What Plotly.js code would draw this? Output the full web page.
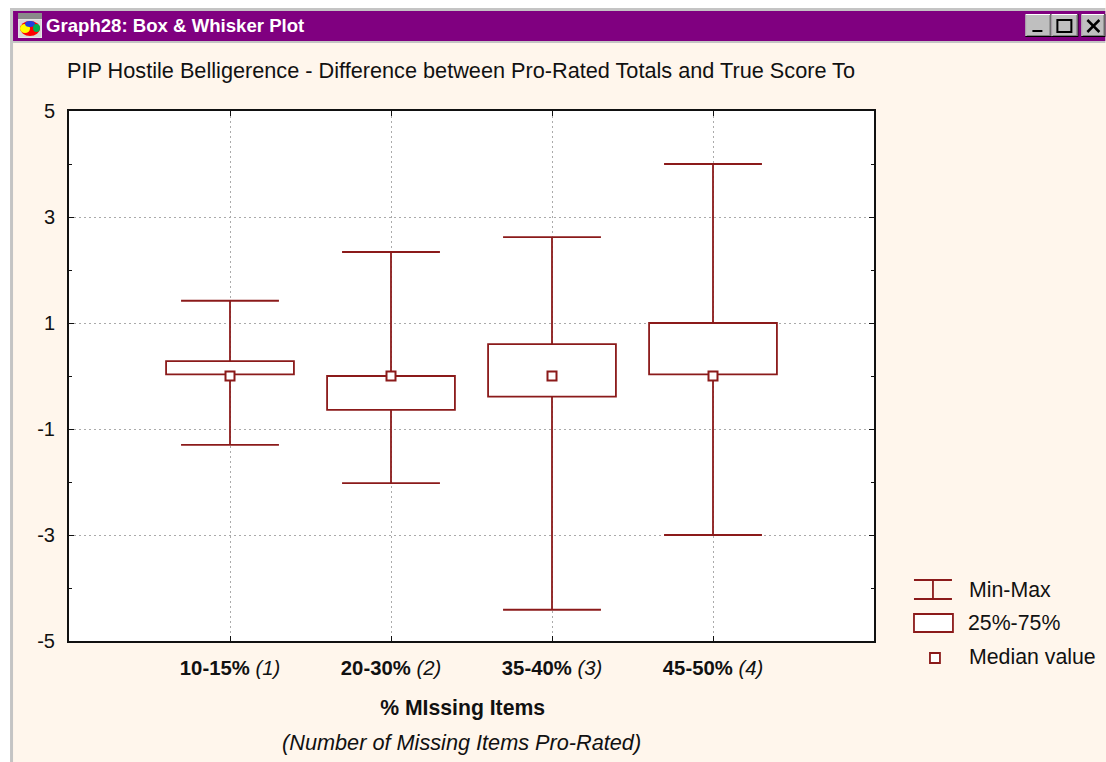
<!DOCTYPE html>
<html><head><meta charset="utf-8">
<script src="https://cdn.plot.ly/plotly-3.0.1.min.js"></script>
<style>html,body{margin:0;padding:0;background:#fff;overflow:hidden}#g{width:1106px;height:762px}</style>
</head><body><div id="g"></div>
<script>
var categories = ['10-15%', '20-30%', '35-40%', '45-50%'];
var itemCounts = ['(1)', '(2)', '(3)', '(4)'];
var positions = [1, 2, 3, 4];
var minValues = [-1.30, -2.02, -4.41, -3.00];
var maxValues = [1.42, 2.34, 2.62, 4.00];
var q1Values = [0.03, -0.64, -0.39, 0.03];
var q3Values = [0.28, 0.00, 0.60, 1.00];
var medianValues = [0, 0, 0, 0];
var yLabels = [-5, -3, -1, 1, 3, 5];

var RED = '#8b1a1a', CREAM = '#fff6ec', PURPLE = '#800080', GREY = '#c4c4c4';
var capHalf = 0.304, boxWidth = 0.794;
var L = 69, R = 874.5, T = 111, B = 641;
var px = function (v) { return (v - L) / (R - L); };
var py = function (v) { return (B - v) / (B - T); };

var wx = [], wy = [];
positions.forEach(function (p, i) {
  wx.push(p - capHalf, p + capHalf, null, p, p, null, p - capHalf, p + capHalf, null, p, p, null);
  wy.push(maxValues[i], maxValues[i], null, maxValues[i], q3Values[i], null,
          minValues[i], minValues[i], null, minValues[i], q1Values[i], null);
});

var traces = [
  { type: 'bar', name: '25%-75%', x: positions,
    y: q3Values.map(function (v, i) { return v - q1Values[i]; }), base: q1Values, width: boxWidth,
    marker: { color: '#fff', line: { color: RED, width: 1.8 } }, showlegend: false },
  { type: 'scatter', mode: 'lines', name: 'Min-Max', x: wx, y: wy, connectgaps: false,
    line: { color: RED, width: 1.8 }, showlegend: false },
  { type: 'scatter', mode: 'markers', name: 'Median value', x: positions, y: medianValues,
    marker: { symbol: 'square', size: 9, color: '#fff', line: { color: RED, width: 2 } }, showlegend: false }
];

function rect(x0, y0, x1, y1, fill, line, lw) {
  return { type: 'rect', xref: 'paper', yref: 'paper', x0: px(x0), x1: px(x1), y0: py(y1), y1: py(y0),
    fillcolor: fill, line: line ? { color: line, width: lw || 1 } : { width: 0 }, layer: 'above' };
}
function seg(x0, y0, x1, y1, color, lw) {
  return { type: 'line', xref: 'paper', yref: 'paper', x0: px(x0), x1: px(x1), y0: py(y0), y1: py(y1),
    line: { color: color, width: lw || 1.8 }, layer: 'above' };
}
function oval(x0, y0, x1, y1, fill) {
  return { type: 'circle', xref: 'paper', yref: 'paper', x0: px(x0), x1: px(x1), y0: py(y1), y1: py(y0),
    fillcolor: fill, line: { width: 0 }, layer: 'above' };
}
function button(x0, x1) {
  return [rect(x0, 14, x1, 37, '#000'), rect(x0, 14, x1 - 1, 36, '#fff'), rect(x0 + 1, 15, x1 - 1, 36, '#808080'), rect(x0 + 1, 15, x1 - 2, 35, '#bfbfbf')];
}
var shapes = [
  rect(0, 0, 1106, 8, '#fff'), rect(0, 8, 10, 762, '#fff'),
  rect(10, 8, 1106, 11, GREY), rect(10, 8, 13, 762, GREY),
  rect(13, 11, 1106, 41, PURPLE), rect(13, 41, 1106, 43, GREY),
  rect(18, 13, 42, 19, '#8a8a8a'), rect(18, 19, 42, 38, '#e6e6e6'), rect(19, 20, 41, 37, '#d8d8d8'),
  oval(20, 21, 40, 36, '#ff0000'), oval(20, 24, 30, 33, '#ffff00'), oval(25, 21, 35, 27, '#2040e0'), oval(33, 24, 40, 32, '#00b050')
].concat(button(1026, 1052), button(1052, 1079), button(1082, 1106), [
  rect(1033, 30, 1043, 32, '#000'),
  rect(1058, 20, 1072, 32, 'rgba(0,0,0,0)', '#000', 2),
  seg(1088, 20, 1100, 32, '#000', 2.5), seg(1100, 20, 1088, 32, '#000', 2.5),
  seg(914.5, 580, 952.5, 580, RED), seg(914.5, 599, 952.5, 599, RED), seg(933.5, 580, 933.5, 599, RED),
  rect(914.5, 614, 953.5, 632, '#fff', RED, 1.8),
  rect(930.5, 653, 940.5, 663, '#fff', RED, 1.8)
]);

function note(x, y, text, size, anchor, color) {
  return { xref: 'paper', yref: 'paper', x: px(x), y: py(y), text: text, showarrow: false,
    xanchor: anchor || 'left', yanchor: 'middle', font: { size: size, color: color || '#111' }, borderpad: 0, borderwidth: 0 };
}

var layout = {
  width: 1106, height: 762, autosize: false,
  margin: { l: L, r: 1106 - R, t: T, b: 762 - B, pad: 0 },
  paper_bgcolor: CREAM, plot_bgcolor: '#fff',
  font: { family: '"Liberation Sans", Arial, sans-serif', color: '#111', size: 18 },
  showlegend: false, barmode: 'overlay',
  title: { text: 'PIP Hostile Belligerence - Difference between Pro-Rated Totals and True Score To',
    x: 67 / 1106, xref: 'container', xanchor: 'left', y: 1 - 70 / 762, yref: 'container', yanchor: 'middle',
    font: { size: 21.7, color: '#111' } },
  xaxis: { range: [0, 5], tickmode: 'array', tickvals: positions,
    ticktext: categories.map(function (c, i) { return '<b>' + c + '</b> <i>' + itemCounts[i] + '</i>'; }),
    showgrid: true, gridcolor: '#aaa', griddash: '2px,3px', gridwidth: 1, zeroline: false,
    ticks: 'inside', ticklen: 5, tickcolor: '#111', tickwidth: 1, tickfont: { size: 20.3 }, ticklabelstandoff: 8,
    showline: true, linecolor: '#111', linewidth: 2, mirror: 'ticks',
    title: { text: '<b>% MIssing Items</b>&nbsp;&nbsp;&nbsp;', standoff: 22, font: { size: 21.2 } }, automargin: false },
  yaxis: { range: [-5, 5], tickmode: 'array', tickvals: yLabels, ticktext: yLabels.map(String),
    showgrid: true, gridcolor: '#aaa', griddash: '2px,3px', gridwidth: 1, zeroline: false,
    ticks: 'inside', ticklen: 5, tickcolor: '#111', tickwidth: 1, tickfont: { size: 20 }, ticklabelstandoff: 8,
    minor: { tickvals: [-4, -2, 0, 2, 4], ticks: 'inside', ticklen: 3, tickcolor: '#111', showgrid: false },
    showline: true, linecolor: '#111', linewidth: 2, mirror: 'ticks', automargin: false },
  shapes: shapes,
  annotations: [
    note(46, 26, '<b>Graph28: Box &amp; Whisker Plot</b>', 18.6, 'left', '#fff'),
    note(461.5, 742, '<i>(Number of Missing Items Pro-Rated)</i>', 21.7, 'center'),
    note(970, 590, 'Min-Max', 21.3),
    note(969, 623, '25%-75%', 21.3),
    note(970, 657, 'Median value', 21.3)
  ]
};
Plotly.newPlot('g', traces, layout, { displayModeBar: false, staticPlot: true });
</script></body></html>
